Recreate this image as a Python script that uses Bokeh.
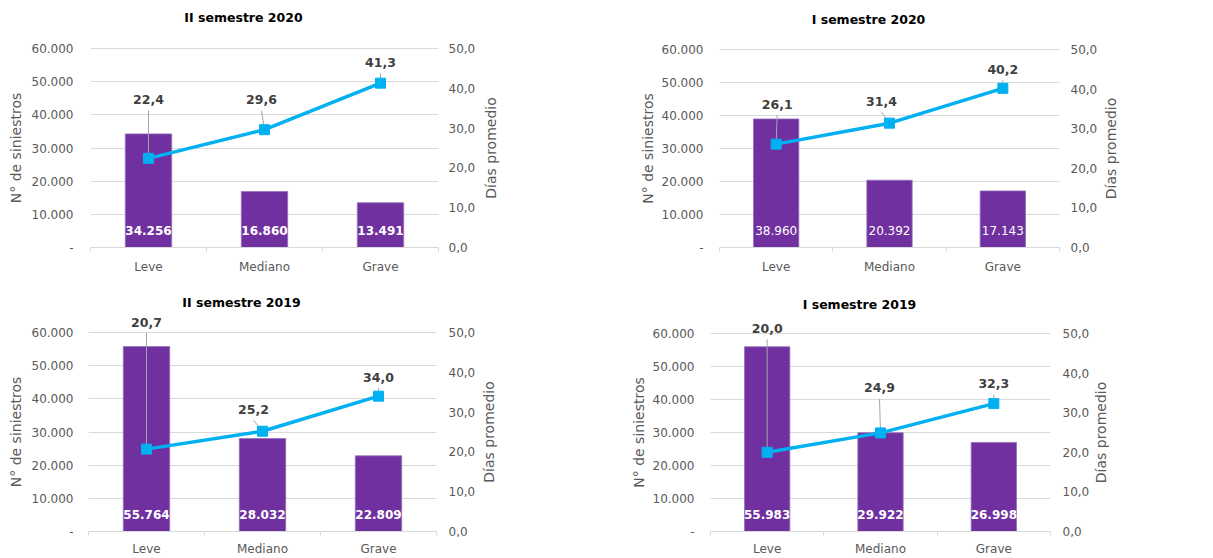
import math
from bokeh.plotting import figure
from bokeh.models import (Range1d, LinearAxis, FixedTicker, ColumnDataSource,
                          LabelSet, Label)
from bokeh.core.properties import value
from bokeh.layouts import column, row
from bokeh.embed import file_html
from bokeh.resources import INLINE

# ---------------- data ----------------
categories = ["Leve", "Mediano", "Grave"]
titles = ["II semestre 2020", "I semestre 2020", "II semestre 2019", "I semestre 2019"]

siniestros_2020_II = [34256, 16860, 13491]
dias_2020_II = [22.4, 29.6, 41.3]
siniestros_2020_I = [38960, 20392, 17143]
dias_2020_I = [26.1, 31.4, 40.2]
siniestros_2019_II = [55764, 28032, 22809]
dias_2019_II = [20.7, 25.2, 34.0]
siniestros_2019_I = [55983, 29922, 26998]
dias_2019_I = [20.0, 24.9, 32.3]

left_ticks = [0, 10000, 20000, 30000, 40000, 50000, 60000]
left_tick_labels = ["-", "10.000", "20.000", "30.000", "40.000", "50.000", "60.000"]
right_ticks = [0, 10, 20, 30, 40, 50]
right_tick_labels = ["0,0", "10,0", "20,0", "30,0", "40,0", "50,0"]

y_label_left = "N° de siniestros"
y_label_right = "Días promedio"

# ---------------- layout / style ----------------
FONT = "DejaVu Sans"
PURPLE = "#7030A0"
BLUE = "#00B0F0"
GRID = "#D9D9D9"
AXIS_TXT = "#595959"
LBL_TXT = "#404040"

ROW_H = [285, 273]

# lw/lx: left label strip width / label centre x; w: main width; fl, fw: frame
# left/width; rw/rx: right strip width / label centre x; gt/gh: top gridline y
# and gridline span; tc: title centre y; ls/rs/bs: tick-label standoffs
panels_layout = [
    dict(row=0, lw=26, lx=15, w=454, fl=64, fw=348, rw=120, rx=10,
         gt=48, gh=199, tc=17, ls=17, rs=10, bs=8,
         offs=[(0, 59), (-3, 30), (0, 21)], bold=True),
    dict(row=0, lw=56, lx=47, w=444, fl=63, fw=340, rw=113, rx=10,
         gt=49, gh=198, tc=19, ls=16, rs=11, bs=8,
         offs=[(1, 40), (-8, 22), (0, 19)], bold=False),
    dict(row=1, lw=26, lx=15, w=454, fl=62, fw=348, rw=120, rx=8,
         gt=47, gh=199, tc=17, ls=15, rs=12, bs=6,
         offs=[(0, 127), (-9, 22), (0, 19)], bold=True),
    dict(row=1, lw=49, lx=38, w=443, fl=61, fw=340, rw=121, rx=8,
         gt=48, gh=198, tc=19, ls=16, rs=12, bs=6,
         offs=[(0, 124), (-1, 45), (0, 20)], bold=True),
]

panel_data = [
    (siniestros_2020_II, dias_2020_II),
    (siniestros_2020_I, dias_2020_I),
    (siniestros_2019_II, dias_2019_II),
    (siniestros_2019_I, dias_2019_I),
]

YMAX = 60000
DMAX = 50


def fmt_int(v):
    return f"{v:,}".replace(",", ".")


def fmt_dec(v):
    return f"{v:.1f}".replace(".", ",")


def style_axis(ax, lbl_standoff):
    ax.axis_line_color = None
    ax.major_tick_line_color = None
    ax.minor_tick_line_color = None
    ax.major_tick_out = 0
    ax.major_tick_in = 0
    ax.minor_tick_out = 0
    ax.minor_tick_in = 0
    ax.major_label_standoff = lbl_standoff
    ax.major_label_text_font = FONT
    ax.major_label_text_font_size = "12px"
    ax.major_label_text_color = AXIS_TXT


def label_strip(text, width, height, cx, gt, gh):
    """Narrow figure (pixel-unit ranges) holding a rotated axis title."""
    fh = gt + gh
    f = figure(width=width, height=height, x_axis_type=None, y_axis_type=None,
               x_range=Range1d(0, width), y_range=Range1d(0, fh),
               output_backend="svg", toolbar_location=None,
               min_border_left=0, min_border_right=0,
               min_border_top=0, min_border_bottom=height - fh)
    f.outline_line_color = None
    f.add_layout(Label(x=cx, y=gh / 2, text=text, angle=math.pi / 2,
                       text_align="center", text_baseline="middle",
                       text_font=FONT, text_font_size="14px",
                       text_color=AXIS_TXT))
    return f


def make_panel(title, sin, dias, L):
    H = ROW_H[L["row"]]
    fw, gh, gt = L["fw"], L["gh"], L["gt"]
    fh = gt + gh                      # frame reaches the top of the figure
    fb = H - fh
    fr = L["w"] - L["fl"] - fw
    ytop = YMAX * fh / gh
    dtop = DMAX * fh / gh

    p = figure(width=L["w"], height=H,
               x_range=Range1d(-0.5, 2.5), y_range=Range1d(0, ytop),
               output_backend="svg", toolbar_location=None,
               min_border_left=L["fl"], min_border_top=0,
               min_border_right=fr, min_border_bottom=fb)
    p.outline_line_color = None
    p.extra_y_ranges = {"dias": Range1d(0, dtop)}

    xs = list(range(len(categories)))
    px_x = 3.0 / fw
    px_s = YMAX / gh
    px_d = DMAX / gh

    # grid
    p.xgrid.grid_line_color = None
    p.ygrid.grid_line_color = GRID
    p.ygrid.ticker = FixedTicker(ticks=left_ticks)

    # left axis
    ya = p.yaxis[0]
    ya.ticker = FixedTicker(ticks=left_ticks)
    ya.major_label_overrides = dict(zip(left_ticks, left_tick_labels))
    style_axis(ya, L["ls"])

    # right axis
    ra = LinearAxis(y_range_name="dias", ticker=FixedTicker(ticks=right_ticks))
    ra.major_label_overrides = dict(zip(right_ticks, right_tick_labels))
    style_axis(ra, L["rs"])
    p.add_layout(ra, "right")

    # bottom axis
    xa = p.xaxis[0]
    xa.ticker = FixedTicker(ticks=xs, minor_ticks=[-0.5, 0.5, 1.5, 2.5])
    xa.major_label_overrides = dict(zip(xs, categories))
    xa.axis_line_color = GRID
    xa.major_tick_line_color = None
    xa.major_tick_out = 0
    xa.major_tick_in = 0
    xa.minor_tick_line_color = GRID
    xa.minor_tick_out = 4
    xa.minor_tick_in = 0
    xa.major_label_standoff = L["bs"]
    xa.major_label_text_font = FONT
    xa.major_label_text_font_size = "12px"
    xa.major_label_text_color = AXIS_TXT

    # title (inside the frame, above the top gridline)
    p.add_layout(Label(x=1 - 21 * px_x, y=YMAX + (gt - L["tc"]) * px_s,
                       text=title, text_align="center", text_baseline="middle",
                       text_font=FONT, text_font_size="12.5px",
                       text_font_style="bold", text_color="#000000"))

    # bars
    src = ColumnDataSource(dict(x=xs, top=sin, cat=categories,
                                lbl=[fmt_int(v) for v in sin],
                                ly=[17 * px_s] * len(sin)))
    p.vbar(x="x", top="top", width=0.4, bottom=0, source=src,
           fill_color=PURPLE, line_color="#9470B8", line_width=0.8)

    p.add_layout(LabelSet(x="x", y="ly", text="lbl", source=src,
                          text_align="center", text_baseline="middle",
                          text_color="white", text_font=value(FONT),
                          text_font_size=value("12px"),
                          text_font_style="bold" if L["bold"] else "normal"))

    # value labels for the line + leader lines
    lx = [x + dx * px_x for x, (dx, dy) in zip(xs, L["offs"])]
    ly = [d + dy * px_d for d, (dx, dy) in zip(dias, L["offs"])]
    lead_y0 = [y - 11 * px_d for y in ly]
    lsrc = ColumnDataSource(dict(x=xs, d=dias, lx=lx, ly=ly, ly0=lead_y0,
                                 lbl=[fmt_dec(v) for v in dias]))
    p.segment(x0="lx", y0="ly0", x1="x", y1="d", source=lsrc,
              y_range_name="dias", line_color="#A6A6A6", line_width=1)

    p.line(x="x", y="d", source=lsrc, y_range_name="dias",
           line_color=BLUE, line_width=3.5)
    p.scatter(x="x", y="d", source=lsrc, y_range_name="dias",
              marker="square", size=10, fill_color=BLUE, line_color=BLUE)

    p.add_layout(LabelSet(x="lx", y="ly", text="lbl", source=lsrc,
                          y_range_name="dias",
                          text_align="center", text_baseline="middle",
                          text_color=LBL_TXT, text_font=value(FONT),
                          text_font_size=value("12.5px"),
                          text_font_style="bold"))

    left = label_strip(y_label_left, L["lw"], H, L["lx"], gt, gh)
    right = label_strip(y_label_right, L["rw"], H, L["rx"], gt, gh)
    return [left, p, right]


parts = [make_panel(t, s, d, L) for t, (s, d), L in zip(titles, panel_data, panels_layout)]
layout = column(row(*(parts[0] + parts[1])), row(*(parts[2] + parts[3])))

open("out.html", "w").write(file_html(layout, INLINE))
